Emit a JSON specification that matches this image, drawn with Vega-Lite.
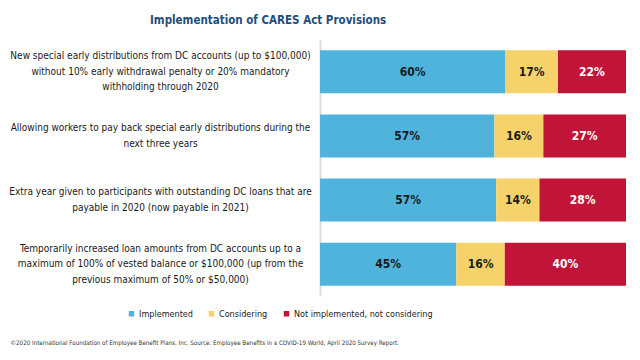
{
  "$schema": "https://vega.github.io/schema/vega-lite/v6.json",
  "autosize": "none",
  "width": 306,
  "height": 256,
  "padding": {"left": 320, "top": 40, "right": 14, "bottom": 64},
  "background": "white",
  "config": {"view": {"stroke": null}},
  "title": {
    "text": "Implementation of CARES Act Provisions",
    "frame": "group",
    "anchor": "start",
    "align": "left",
    "dx": -170,
    "dy": 12,
    "baseline": "middle",
    "offset": 20,
    "font": "DejaVu Sans Condensed",
    "fontSize": 11.5,
    "fontWeight": "bold",
    "color": "#1f4e7a"
  },
  "data": {
    "values": [
      {"q": "New special early distributions from DC accounts (up to $100,000)|without 10% early withdrawal penalty or 20% mandatory|withholding through 2020", "status": "Implemented", "value": 0.60},
      {"q": "New special early distributions from DC accounts (up to $100,000)|without 10% early withdrawal penalty or 20% mandatory|withholding through 2020", "status": "Considering", "value": 0.17},
      {"q": "New special early distributions from DC accounts (up to $100,000)|without 10% early withdrawal penalty or 20% mandatory|withholding through 2020", "status": "Not implemented, not considering", "value": 0.22},
      {"q": "Allowing workers to pay back special early distributions during the|next three years", "status": "Implemented", "value": 0.57},
      {"q": "Allowing workers to pay back special early distributions during the|next three years", "status": "Considering", "value": 0.16},
      {"q": "Allowing workers to pay back special early distributions during the|next three years", "status": "Not implemented, not considering", "value": 0.27},
      {"q": "Extra year given to participants with outstanding DC loans that are|payable in 2020 (now payable in 2021)", "status": "Implemented", "value": 0.57},
      {"q": "Extra year given to participants with outstanding DC loans that are|payable in 2020 (now payable in 2021)", "status": "Considering", "value": 0.14},
      {"q": "Extra year given to participants with outstanding DC loans that are|payable in 2020 (now payable in 2021)", "status": "Not implemented, not considering", "value": 0.28},
      {"q": "Temporarily increased loan amounts from DC accounts up to a|maximum of 100% of vested balance or $100,000 (up from the|previous maximum of 50% or $50,000)", "status": "Implemented", "value": 0.45},
      {"q": "Temporarily increased loan amounts from DC accounts up to a|maximum of 100% of vested balance or $100,000 (up from the|previous maximum of 50% or $50,000)", "status": "Considering", "value": 0.16},
      {"q": "Temporarily increased loan amounts from DC accounts up to a|maximum of 100% of vested balance or $100,000 (up from the|previous maximum of 50% or $50,000)", "status": "Not implemented, not considering", "value": 0.40}
    ]
  },
  "transform": [
    {"calculate": "indexof(['Implemented','Considering','Not implemented, not considering'], datum.status)", "as": "rank"}
  ],
  "encoding": {
    "y": {
      "field": "q",
      "type": "nominal",
      "sort": null,
      "scale": {"paddingInner": 0.33, "paddingOuter": 0.16},
      "axis": {
        "title": null,
        "ticks": false,
        "tickSize": 0,
        "labelPadding": 160,
        "labelAlign": "center",
        "labelBaseline": "middle",
        "labelLimit": 330,
        "labelExpr": "split(datum.label, '|')",
        "labelLineHeight": 15.5,
        "labelOffset": {
          "condition": {"test": "length(split(datum.label, '|')) == 3", "value": -15.5},
          "value": -7.75
        },
        "labelFont": "DejaVu Sans Condensed",
        "labelFontSize": 10,
        "labelColor": "#1a1a1a",
        "domainColor": "#dedede",
        "domainWidth": 2
      }
    },
    "x": {
      "field": "value",
      "type": "quantitative",
      "stack": "normalize",
      "scale": {"domain": [0, 1], "nice": false},
      "axis": {
        "title": "©2020 International Foundation of Employee Benefit Plans, Inc. Source: Employee Benefits in a COVID-19 World, April 2020 Survey Report.",
        "domain": false,
        "labels": false,
        "ticks": false,
        "grid": false,
        "titleX": -310,
        "titleY": 46,
        "titleAlign": "left",
        "titleBaseline": "middle",
        "titleFont": "DejaVu Sans Condensed",
        "titleFontSize": 6.2,
        "titleFontWeight": "normal",
        "titleColor": "#333333"
      }
    },
    "order": {"field": "rank", "type": "quantitative"}
  },
  "layer": [
    {
      "mark": {"type": "bar"},
      "encoding": {
        "color": {
          "field": "status",
          "type": "nominal",
          "scale": {
            "domain": ["Implemented", "Considering", "Not implemented, not considering"],
            "range": ["#4fb3dc", "#f6d26b", "#c11439"]
          },
          "legend": {
            "title": null,
            "orient": "none",
            "direction": "horizontal",
            "legendX": -193,
            "legendY": 269,
            "symbolType": "square",
            "symbolSize": 30,
            "symbolStrokeWidth": 0,
            "labelFont": "DejaVu Sans Condensed",
            "labelFontSize": 9,
            "labelLimit": 300,
            "labelColor": "#1a1a1a",
            "labelOffset": 3,
            "columnPadding": 14
          }
        }
      }
    },
    {
      "mark": {
        "type": "text",
        "font": "DejaVu Sans Condensed",
        "fontSize": 12,
        "fontWeight": "bold",
        "baseline": "middle"
      },
      "encoding": {
        "x": {"field": "value", "type": "quantitative", "stack": "normalize", "bandPosition": 0.5},
        "text": {"field": "value", "type": "quantitative", "format": ".0%"},
        "color": {
          "condition": {"test": "datum.status === 'Not implemented, not considering'", "value": "white"},
          "value": "#1a1a1a"
        }
      }
    }
  ]
}
